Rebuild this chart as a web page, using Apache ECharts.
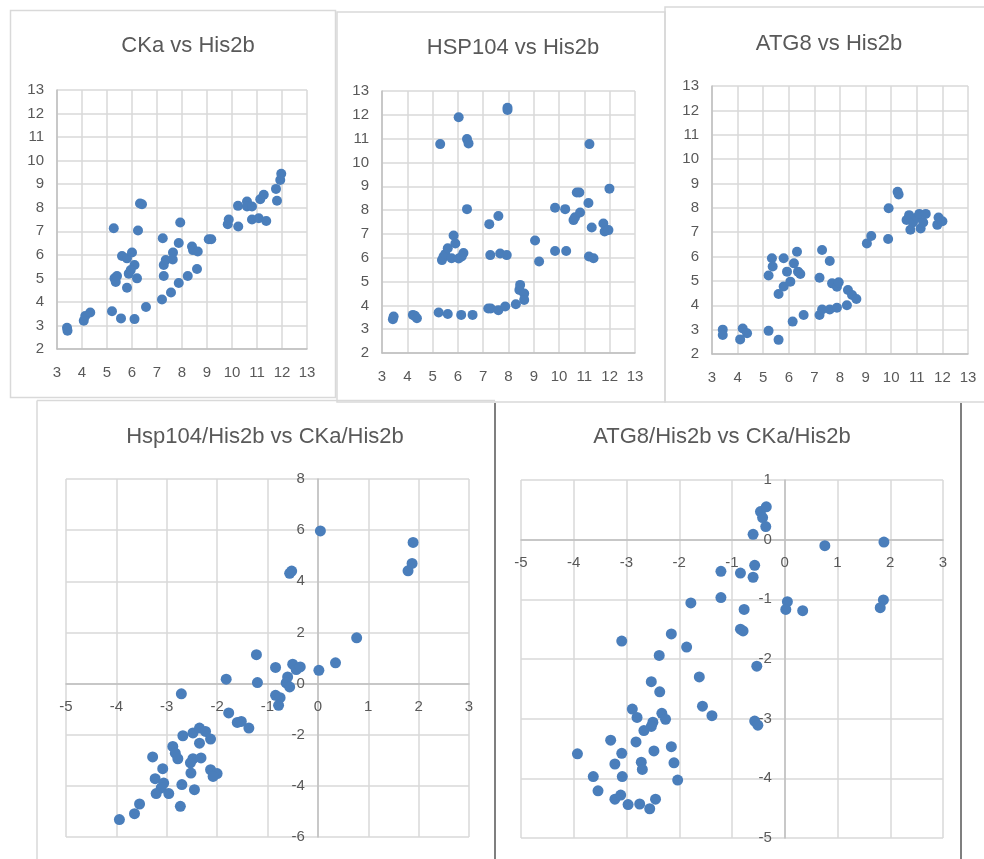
<!DOCTYPE html>
<html>
<head>
<meta charset="utf-8">
<script src="https://cdn.jsdelivr.net/npm/echarts@6/dist/echarts.min.js"></script>
<style>
  html, body { margin: 0; padding: 0; background: #fff; }
  #chart { width: 984px; height: 859px; }
</style>
</head>
<body>
<div id="chart"></div>
<script>
  // values, [x, y]
  const ckaVsHis2b = [
    [3.4, 2.9], [3.42, 2.78], [4.07, 3.2], [4.13, 3.4], [4.33, 3.55], [5.2, 3.6], [5.56, 3.3],
    [6.1, 3.27], [6.56, 3.78], [7.2, 4.1], [7.56, 4.4], [7.87, 4.8], [8.23, 5.1], [8.6, 5.4],
    [5.27, 7.13], [5.3, 5.0], [5.35, 4.85], [5.4, 5.1], [5.6, 5.95], [5.8, 5.85], [6.0, 6.1],
    [6.1, 5.57], [5.87, 5.2], [5.95, 5.35], [5.8, 4.6], [6.2, 5.0], [6.24, 7.03], [6.32, 8.18],
    [6.4, 8.15], [7.23, 6.7], [7.27, 5.57], [7.27, 5.1], [7.35, 5.78], [7.64, 6.1], [7.63, 5.8],
    [7.87, 6.5], [7.93, 7.37], [8.4, 6.35], [8.44, 6.2], [8.63, 6.14], [9.07, 6.66], [9.17, 6.66],
    [9.83, 7.3], [9.87, 7.5], [10.25, 7.2], [10.24, 8.08], [10.6, 8.26], [10.6, 8.05], [10.8, 8.05],
    [10.8, 7.5], [11.07, 7.55], [11.13, 8.36], [11.27, 8.55], [11.37, 7.44], [11.8, 8.3],
    [11.76, 8.8], [11.93, 9.18], [11.97, 9.44]
  ]

  const hsp104VsHis2b = [
    [3.43, 3.42], [3.46, 3.53], [4.22, 3.6], [4.3, 3.56], [4.38, 3.46], [5.24, 3.7], [5.6, 3.64],
    [6.13, 3.6], [6.58, 3.6], [7.2, 3.87], [7.3, 3.87], [7.6, 3.8], [7.87, 3.95], [8.29, 4.05],
    [8.43, 4.65], [8.46, 4.86], [8.62, 4.5], [8.62, 4.23], [5.3, 10.77], [6.03, 11.9],
    [6.36, 10.98], [6.42, 10.8], [7.96, 12.3], [7.96, 12.2], [6.36, 8.04], [5.37, 5.9],
    [5.43, 6.04], [5.5, 6.15], [5.6, 6.4], [5.83, 6.93], [5.9, 6.6], [5.75, 5.98], [6.03, 5.97],
    [6.22, 6.2], [6.15, 6.05], [7.28, 6.11], [7.67, 6.18], [7.93, 6.11], [7.24, 7.41], [7.6, 7.75],
    [9.05, 6.72], [9.21, 5.84], [9.84, 6.28], [10.28, 6.28], [9.84, 8.1], [10.24, 8.04],
    [10.57, 7.58], [10.63, 7.7], [10.7, 8.74], [10.8, 8.74], [10.83, 7.9], [11.16, 8.3],
    [11.2, 10.77], [11.29, 7.27], [11.18, 6.05], [11.36, 5.98], [11.75, 7.44], [11.8, 7.1],
    [11.95, 7.16], [11.99, 8.9]
  ]

  const atg8VsHis2b = [
    [3.42, 3.0], [3.42, 2.78], [4.1, 2.6], [4.2, 3.05], [4.37, 2.85], [5.21, 2.95], [5.6, 2.58],
    [6.15, 3.33], [6.58, 3.6], [7.2, 3.6], [7.3, 3.83], [7.6, 3.83], [7.88, 3.9], [8.27, 4.0],
    [8.31, 4.63], [8.47, 4.42], [8.64, 4.26], [5.21, 5.22], [5.34, 5.93], [5.37, 5.59],
    [5.6, 4.46], [5.8, 5.93], [5.8, 4.77], [5.93, 5.38], [6.06, 4.97], [6.2, 5.72], [6.32, 6.2],
    [6.36, 5.38], [6.45, 5.28], [7.2, 5.13], [7.3, 6.27], [7.6, 5.82], [7.69, 4.9], [7.88, 4.76],
    [7.95, 4.94], [9.05, 6.54], [9.22, 6.84], [9.9, 7.98], [9.88, 6.72], [10.25, 8.66],
    [10.29, 8.55], [10.6, 7.5], [10.7, 7.7], [10.75, 7.1], [10.85, 7.4], [11.0, 7.6], [11.1, 7.75],
    [11.15, 7.15], [11.25, 7.4], [11.35, 7.75], [11.8, 7.3], [11.85, 7.6], [12.0, 7.45]
  ]

  const hsp104VsCka = [
    [-1.22, 1.13], [-1.2, 0.04], [-1.82, 0.17], [-2.71, -0.4], [-1.77, -1.15], [-1.6, -1.52],
    [-1.52, -1.48], [-1.37, -1.74], [-2.68, -2.04], [-2.48, -1.93], [-2.35, -1.74], [-2.23, -1.87],
    [-2.13, -2.17], [-2.35, -2.33], [-2.88, -2.46], [-2.83, -2.72], [-2.78, -2.94], [-3.28, -2.87],
    [-2.48, -2.94], [-2.32, -2.91], [-2.53, -3.1], [-2.52, -3.5], [-2.13, -3.37], [-2.0, -3.52],
    [-2.08, -3.63], [-3.08, -3.33], [-3.23, -3.72], [-3.06, -3.89], [-3.11, -4.08], [-3.21, -4.3],
    [-2.96, -4.3], [-2.7, -3.95], [-2.45, -4.15], [-2.73, -4.8], [-3.54, -4.71], [-3.64, -5.09],
    [-3.94, -5.32], [-0.84, 0.63], [-0.84, -0.46], [-0.75, -0.55], [-0.78, -0.85], [-0.6, 0.26],
    [-0.63, 0.03], [-0.56, -0.13], [-0.5, 0.76], [-0.43, 0.55], [-0.35, 0.65], [-0.56, 4.31],
    [-0.52, 4.4], [0.05, 5.97], [0.02, 0.52], [0.35, 0.81], [0.77, 1.79], [1.79, 4.41],
    [1.87, 4.7], [1.89, 5.52]
  ]

  const atg8VsCka = [
    [-1.21, -0.53], [-0.84, -0.56], [-1.21, -0.97], [-1.78, -1.06], [-0.77, -1.17], [-0.84, -1.5],
    [-0.79, -1.53], [-3.09, -1.7], [-2.15, -1.58], [-1.86, -1.8], [-2.38, -1.94], [-1.62, -2.3],
    [-2.53, -2.38], [-2.37, -2.55], [-1.56, -2.79], [-1.38, -2.95], [-2.89, -2.84], [-2.8, -2.98],
    [-2.33, -2.91], [-2.26, -3.01], [-2.5, -3.06], [-2.53, -3.13], [-2.67, -3.2], [-3.3, -3.36],
    [-2.82, -3.39], [-2.15, -3.47], [-2.48, -3.54], [-3.93, -3.59], [-3.09, -3.58], [-3.22, -3.76],
    [-2.72, -3.73], [-2.7, -3.85], [-2.1, -3.74], [-3.08, -3.97], [-3.63, -3.97], [-2.03, -4.03],
    [-3.54, -4.21], [-3.22, -4.35], [-3.11, -4.28], [-2.97, -4.44], [-2.75, -4.43], [-2.45, -4.35],
    [-2.56, -4.51], [-0.46, 0.47], [-0.35, 0.55], [-0.42, 0.37], [-0.36, 0.22], [-0.6, 0.09],
    [-0.57, -0.43], [-0.6, -0.63], [-0.53, -2.12], [-0.57, -3.04], [-0.51, -3.11], [0.76, -0.1],
    [1.88, -0.04], [0.05, -1.04], [0.02, -1.17], [0.34, -1.19], [1.87, -1.01], [1.81, -1.14]
  ]

  const titles = [
    'CKa vs His2b', 'HSP104 vs His2b', 'ATG8 vs His2b',
    'Hsp104/His2b vs CKa/His2b', 'ATG8/His2b vs CKa/His2b'
  ]
  const seriesData = [ckaVsHis2b, hsp104VsHis2b, atg8VsHis2b, hsp104VsCka, atg8VsCka]

  // axis ranges [min, max, interval]
  const topX = [3, 13, 1]
  const topY = [2, 13, 1]
  const ratioX = [-5, 3, 1]
  const hspRatioY = [-6, 8, 2]
  const atgRatioY = [-5, 1, 1]

  const FONT = 'Liberation Sans'
  const BLUE = '#4a7ebb'

  const grids = [
    { left: 57, top: 90, width: 250, height: 259 },
    { left: 382, top: 91, width: 253, height: 262 },
    { left: 712, top: 86, width: 256, height: 268 },
    { left: 66, top: 479, width: 403, height: 358 },
    { left: 521, top: 480, width: 422, height: 358 },
  ]
  const titlePos = [[188, 46], [513, 48], [829, 44], [265, 437], [722, 437]]

  const xRanges = [topX, topX, topX, ratioX, ratioX]
  const yRanges = [topY, topY, topY, hspRatioY, atgRatioY]

  // where the zero of the other axis sits, measured from the grid's bottom / left edge
  function zeroShift(range, size) {
    if (range[0] >= 0) return 0
    return size * (0 - range[0]) / (range[1] - range[0])
  }

  function axis(i, range, margin, offset) {
    return {
      type: 'value',
      gridIndex: i,
      min: range[0],
      max: range[1],
      interval: range[2],
      offset: offset,
      axisLine: { show: true, onZero: false, lineStyle: { color: '#bfbfbf', width: 1.5 } },
      axisTick: { show: false },
      splitLine: { show: true, lineStyle: { color: '#d9d9d9', width: 1.5 } },
      axisLabel: { color: '#595959', fontSize: 15, fontFamily: FONT, margin: margin },
    }
  }

  const chart = echarts.init(document.getElementById('chart'))

  const light = { stroke: '#d9d9d9', lineWidth: 1.5, fill: 'none' }
  const dark = { stroke: '#7f7f7f', lineWidth: 2 }

  chart.setOption({
    animation: false,
    grid: grids,
    xAxis: xRanges.map((r, i) =>
      axis(i, r, 16, -zeroShift(yRanges[i], grids[i].height))),
    yAxis: yRanges.map((r, i) =>
      axis(i, r, 13, -zeroShift(xRanges[i], grids[i].width))),
    series: seriesData.map((d, i) => ({
      type: 'scatter',
      xAxisIndex: i,
      yAxisIndex: i,
      symbolSize: i < 3 ? 10 : 11,
      itemStyle: { color: BLUE, opacity: 1 },
      data: d,
    })),
    graphic: [
      // panel frames
      { type: 'rect', shape: { x: 10.5, y: 10.5, width: 325, height: 387 }, style: light },
      { type: 'rect', shape: { x: 337, y: 12, width: 328, height: 390 }, style: light },
      { type: 'rect', shape: { x: 665, y: 7, width: 340, height: 395 }, style: light },
      { type: 'line', shape: { x1: 37, y1: 400.5, x2: 37, y2: 870 }, style: light },
      { type: 'line', shape: { x1: 37, y1: 400.5, x2: 495, y2: 400.5 }, style: light },
      { type: 'line', shape: { x1: 495, y1: 403, x2: 495, y2: 870 }, style: dark },
      { type: 'line', shape: { x1: 961, y1: 403, x2: 961, y2: 870 }, style: dark },
    ].concat(titles.map((t, i) => ({
      type: 'text',
      style: {
        text: t,
        x: titlePos[i][0],
        y: titlePos[i][1],
        textAlign: 'center',
        textVerticalAlign: 'middle',
        fill: '#595959',
        font: '22px "' + FONT + '"',
      },
    }))),
  })
</script>
</body>
</html>
